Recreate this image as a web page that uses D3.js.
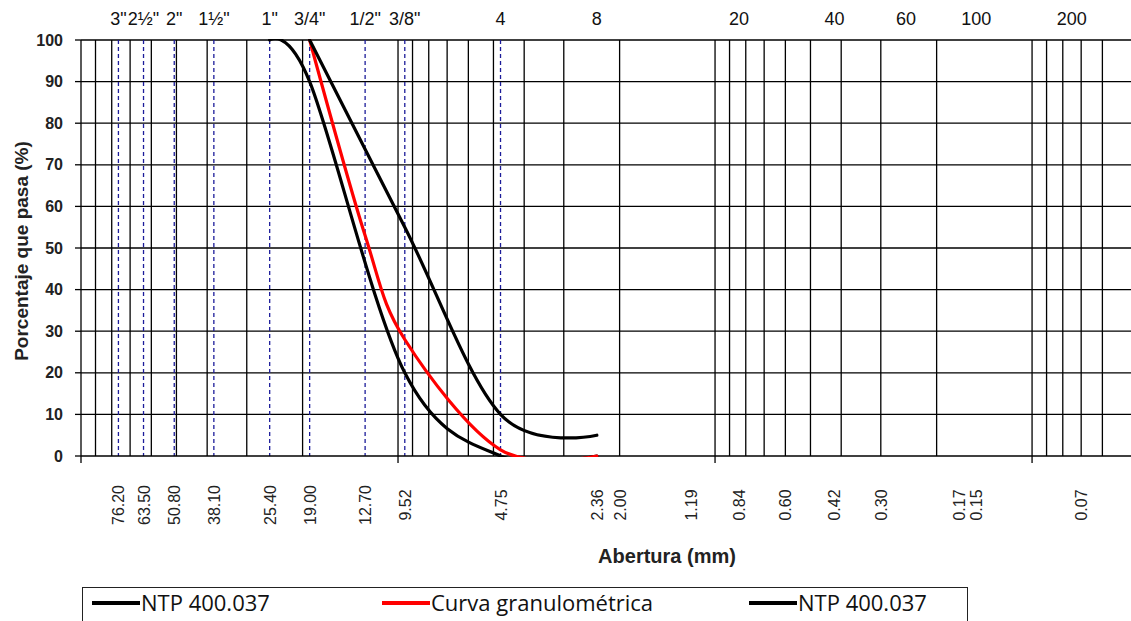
<!DOCTYPE html>
<html><head><meta charset="utf-8">
<script src="https://cdn.jsdelivr.net/npm/d3@7"></script>
<style>body{margin:0;background:#fff} svg{display:block}</style>
</head><body>
<svg id="chart" width="1131" height="621"></svg>
<script>
// ---- data ----
const sieveSizes = [25.4, 19.0, 12.7, 9.52, 4.75, 2.36];
const ntpLower = [100, 90, null, 20, 0, 0];
const ntpUpper = [null, 100, null, 55, 10, 5];
const curvaGranulometrica = [null, 100, 53, 28, 1.5, 0];

const topTickLabels = ['3"', '2½"', '2"', '1½"', '1"', '3/4"', '1/2"', '3/8"', '4', '8', '20', '40', '60', '100', '200'];
const topTickValues = [76.2, 63.5, 50.8, 38.1, 25.4, 19.0, 12.7, 9.52, 4.75, 2.36, 0.84, 0.42, 0.25, 0.15, 0.075];
const dashedSieves = [76.2, 63.5, 50.8, 38.1, 25.4, 19.0, 12.7, 9.52, 4.75];

const bottomTickLabels = ['76.20', '63.50', '50.80', '38.10', '25.40', '19.00', '12.70', '9.52', '4.75', '2.36', '2.00', '1.19', '0.84', '0.60', '0.42', '0.30', '0.17', '0.15', '0.07'];
const bottomTickValues = [76.2, 63.5, 50.8, 38.1, 25.4, 19.0, 12.7, 9.52, 4.75, 2.36, 2.00, 1.19, 0.84, 0.60, 0.42, 0.30, 0.17, 0.15, 0.07];

const yTickValues = [0, 10, 20, 30, 40, 50, 60, 70, 80, 90, 100];
const legendLabels = ['NTP 400.037', 'Curva granulométrica', 'NTP 400.037'];
const seriesColors = ['#000000', '#ff0000', '#000000'];

// ---- layout ----
const svg = d3.select('#chart');
const L = 81, R = 1142, T = 40, B = 456;
const x = d3.scaleLog().domain([100, 0.045]).range([L, R]);
const y = d3.scaleLinear().domain([0, 100]).range([B, T]);
const sans = '"Liberation Sans", Arial, sans-serif';

svg.append('defs').append('clipPath').attr('id', 'plotClip')
  .append('rect').attr('x', L).attr('y', T - 1).attr('width', R - L).attr('height', B - T + 2);

// vertical grid lines
const gridVals = x.ticks().filter(d => d < 100 && d >= 0.055);
svg.append('g').selectAll('line').data(gridVals).join('line')
  .attr('x1', d => x(d)).attr('x2', d => x(d))
  .attr('y1', T).attr('y2', B)
  .attr('stroke', '#000').attr('stroke-width', 1.3);

// horizontal grid lines
svg.append('g').selectAll('line').data(yTickValues.filter(d => d > 0)).join('line')
  .attr('x1', L).attr('x2', R)
  .attr('y1', d => y(d)).attr('y2', d => y(d))
  .attr('stroke', '#000').attr('stroke-width', 1.3);

// dashed sieve lines
svg.append('g').selectAll('line').data(dashedSieves).join('line')
  .attr('x1', d => x(d)).attr('x2', d => x(d))
  .attr('y1', T).attr('y2', B)
  .attr('stroke', '#1c1c9a').attr('stroke-width', 1.3)
  .attr('stroke-dasharray', '4,3');

// axes
const axisG = svg.append('g');
axisG.append('line').attr('x1', L).attr('x2', R).attr('y1', B).attr('y2', B)
  .attr('stroke', '#000').attr('stroke-width', 1.3);
axisG.append('line').attr('x1', L).attr('x2', L).attr('y1', T).attr('y2', B + 7)
  .attr('stroke', '#000').attr('stroke-width', 1.3);
axisG.selectAll('.xmaj').data([10, 1, 0.1]).join('line')
  .attr('x1', d => x(d)).attr('x2', d => x(d)).attr('y1', B).attr('y2', B + 7)
  .attr('stroke', '#000').attr('stroke-width', 1.3);
axisG.selectAll('.ytk').data(yTickValues).join('line')
  .attr('x1', L - 6).attr('x2', L).attr('y1', d => y(d)).attr('y2', d => y(d))
  .attr('stroke', '#000').attr('stroke-width', 1.3);

// y tick labels
svg.append('g').selectAll('text').data(yTickValues).join('text')
  .attr('x', 63).attr('y', d => y(d) + 5.5)
  .attr('text-anchor', 'end')
  .attr('font-family', sans).attr('font-weight', 'bold').attr('font-size', 16)
  .attr('fill', '#222')
  .text(d => d);

// top labels
svg.append('g').selectAll('text').data(topTickValues).join('text')
  .attr('x', d => x(d)).attr('y', 25)
  .attr('text-anchor', 'middle')
  .attr('font-family', sans).attr('font-size', 18)
  .attr('fill', '#111')
  .text((d, i) => topTickLabels[i]);

// bottom labels
svg.append('g').selectAll('text').data(bottomTickValues).join('text')
  .attr('transform', d => `translate(${x(d) + 6},505) rotate(-90)`)
  .attr('text-anchor', 'middle')
  .attr('font-family', sans).attr('font-size', 16)
  .attr('fill', '#222')
  .text((d, i) => bottomTickLabels[i]);

// axis titles
svg.append('text').attr('x', 667).attr('y', 563).attr('text-anchor', 'middle')
  .attr('font-family', sans).attr('font-weight', 'bold').attr('font-size', 20)
  .attr('fill', '#222').text('Abertura (mm)');
svg.append('text').attr('transform', 'translate(28,251) rotate(-90)').attr('text-anchor', 'middle')
  .attr('font-family', sans).attr('font-weight', 'bold').attr('font-size', 19)
  .attr('fill', '#222').text('Porcentaje que pasa (%)');

// curves (Excel-like smoothing, clipped to plot area)
const line = d3.line().x(d => x(d[0])).y(d => y(d[1])).curve(d3.curveCatmullRom.alpha(0));
const toPts = vals => sieveSizes.map((s, i) => [s, vals[i]]).filter(p => p[1] != null);
const series = [ntpLower, curvaGranulometrica, ntpUpper];
const seriesCol = [seriesColors[0], seriesColors[1], seriesColors[2]];
svg.append('g').attr('clip-path', 'url(#plotClip)')
  .selectAll('path').data(series).join('path')
  .attr('d', d => line(toPts(d)))
  .attr('fill', 'none')
  .attr('stroke', (d, i) => seriesCol[i])
  .attr('stroke-width', 3.2)
  .attr('stroke-linejoin', 'round').attr('stroke-linecap', 'round');

// legend
const lg = svg.append('g');
lg.append('rect').attr('x', 82.5).attr('y', 587.5).attr('width', 885).attr('height', 60)
  .attr('fill', 'none').attr('stroke', '#222').attr('stroke-width', 1);
const itemX = [92, 382, 749];
legendLabels.forEach((lab, i) => {
  lg.append('line').attr('x1', itemX[i]).attr('x2', itemX[i] + 48)
    .attr('y1', 603).attr('y2', 603)
    .attr('stroke', seriesColors[i]).attr('stroke-width', 4);
  lg.append('text').attr('x', itemX[i] + 49).attr('y', 611)
    .attr('font-family', '"Open Sans", sans-serif').attr('font-size', 22)
    .attr('fill', '#111').text(lab);
});
</script>
</body></html>
